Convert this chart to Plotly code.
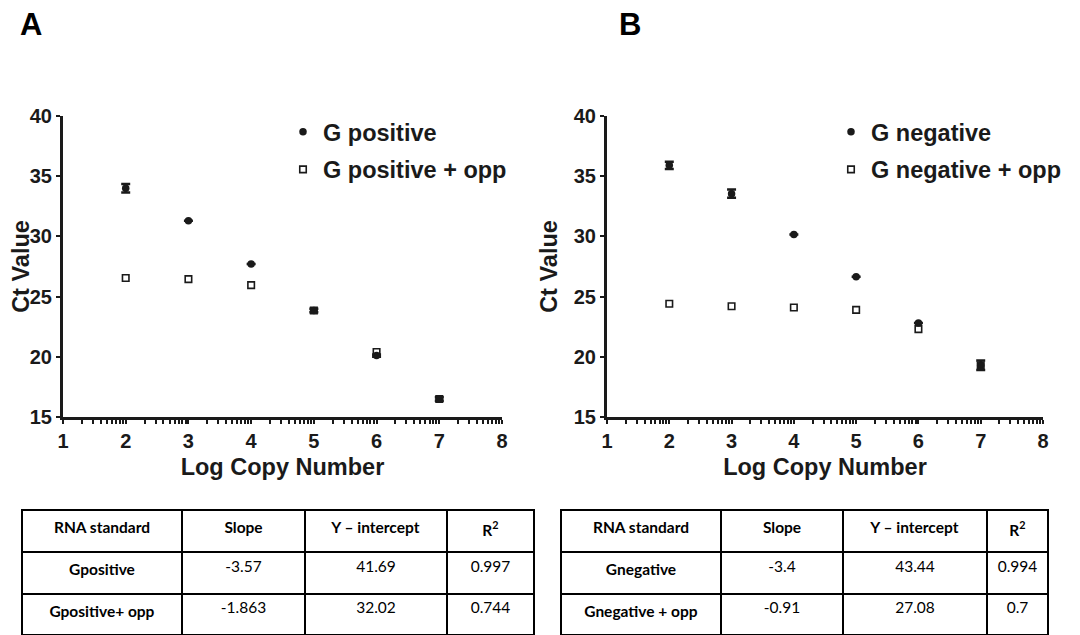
import plotly.graph_objects as go
import numpy as np

# ---------------- data ----------------
log_copy = [2, 3, 4, 5, 6, 7]

g_pos = [34.0, 31.3, 27.7, 23.85, 20.1, 16.5]
g_pos_err = [0.35, 0.0, 0.0, 0.15, 0.1, 0.15]
g_pos_opp = [26.55, 26.45, 25.95, 23.85, 20.4, 16.5]

g_neg = [35.9, 33.55, 30.15, 26.65, 22.8, 19.3]
g_neg_err = [0.3, 0.35, 0.0, 0.0, 0.0, 0.4]
g_neg_opp = [24.4, 24.2, 24.1, 23.9, 22.3, 19.3]

table_header = ["RNA standard", "Slope", "Y \u2013 intercept", "R<sup>2</sup>"]
tableA_names = ["Gpositive", "Gpositive+ opp"]
tableA_slope = ["-3.57", "-1.863"]
tableA_icpt = ["41.69", "32.02"]
tableA_r2 = ["0.997", "0.744"]
tableB_names = ["Gnegative", "Gnegative + opp"]
tableB_slope = ["-3.4", "-0.91"]
tableB_icpt = ["43.44", "27.08"]
tableB_r2 = ["0.994", "0.7"]

x_ticks = [1, 2, 3, 4, 5, 6, 7, 8]
y_ticks = [15, 20, 25, 30, 35, 40]

# ---------------- style ----------------
OFF = 8                      # default page body margin
W, H = 1080 - OFF, 635 - OFF
INK = "#1a1a1a"
AX_FONT = "Liberation Sans"
TB_FONT = "Lato"
minor_vals = [i + np.log10(k) for i in range(1, 8) for k in range(2, 10)]


def px_x(p):
    return (p - OFF) / W


def px_y(p):
    return 1 - (p - OFF) / H


fig = go.Figure()

def add_panel(xa, ya, leg, y_main, y_err, y_opp, name_main, name_opp):
    fig.add_trace(go.Scatter(
        x=log_copy, y=y_main, mode="markers", name=name_main,
        xaxis=xa, yaxis=ya, legend=leg, legendgroup=name_main, cliponaxis=False,
        marker=dict(symbol="circle", size=7.5, color=INK),
        error_y=dict(type="data", array=y_err, visible=True,
                     color=INK, thickness=2.5, width=4.5),
    ))
    fig.add_trace(go.Scatter(
        x=log_copy, y=y_opp, mode="markers", name=name_opp,
        xaxis=xa, yaxis=ya, legend=leg, legendgroup=name_opp, cliponaxis=False,
        marker=dict(symbol="square-open", size=6.5, color=INK,
                    line=dict(width=1.6, color=INK)),
    ))

add_panel("x", "y", "legend", g_pos, g_pos_err, g_pos_opp, "G positive", "G positive + opp")
add_panel("x2", "y2", "legend2", g_neg, g_neg_err, g_neg_opp, "G negative", "G negative + opp")


def add_table(x0, x1, names, slope, icpt, r2, widths):
    fig.add_trace(go.Table(
        domain=dict(x=[px_x(x0), px_x(x1)], y=[0, px_y(510)]),
        columnwidth=widths,
        header=dict(
            values=["<b>%s</b>" % h for h in table_header],
            height=42, align="center",
            line=dict(color="black", width=2),
            fill=dict(color="white"),
            font=dict(family=TB_FONT, size=15.5, color="black"),
        ),
        cells=dict(
            values=[["<b>%s</b>" % n for n in names], slope, icpt, r2],
            height=41.5, align="center",
            line=dict(color="black", width=2),
            fill=dict(color="white"),
            font=dict(family=TB_FONT, size=15.5, color="black"),
        ),
    ))

add_table(22, 534, tableA_names, tableA_slope, tableA_icpt, tableA_r2, [160, 123, 142, 87])
add_table(561, 1048, tableB_names, tableB_slope, tableB_icpt, tableB_r2, [160, 122, 144, 61])

axis_common = dict(
    showline=True, linewidth=3, linecolor=INK, showgrid=False, zeroline=False,
    ticks="outside", tickwidth=2, ticklen=4, tickcolor=INK, automargin=False,
    tickfont=dict(family=AX_FONT, size=20, color=INK, weight="bold"),
)
xcommon = dict(axis_common, range=[1, 8], tickmode="array", tickvals=x_ticks,
               title=dict(text="Log Copy Number", standoff=8,
                          font=dict(family=AX_FONT, size=23.5, color=INK, weight="bold")),
               minor=dict(tickmode="array", tickvals=minor_vals, ticks="outside",
                          ticklen=3.5, tickwidth=2, tickcolor=INK))
ycommon = dict(axis_common, range=[15, 40], tickmode="array", tickvals=y_ticks,
               title=dict(text="Ct Value", standoff=10,
                          font=dict(family=AX_FONT, size=23.5, color=INK, weight="bold")))

legend_common = dict(
    font=dict(family=AX_FONT, size=23.5, color=INK, weight="bold"),
    bgcolor="rgba(0,0,0,0)", xanchor="left", yanchor="top",
    itemsizing="trace", tracegroupgap=4,
)

fig.update_layout(
    width=W, height=H, margin=dict(l=0, r=0, t=0, b=0, pad=0, autoexpand=False),
    paper_bgcolor="white", plot_bgcolor="white",
    xaxis=dict(xcommon, domain=[px_x(63), px_x(502)], anchor="y"),
    yaxis=dict(ycommon, domain=[px_y(417), px_y(116)], anchor="x"),
    xaxis2=dict(xcommon, domain=[px_x(607), px_x(1043)], anchor="y2"),
    yaxis2=dict(ycommon, domain=[px_y(417), px_y(116)], anchor="x2"),
    legend=dict(legend_common, x=px_x(283), y=px_y(110)),
    legend2=dict(legend_common, x=px_x(831), y=px_y(110)),
    showlegend=True,
    annotations=[
        dict(text="<b>A</b>", x=px_x(31), y=px_y(25), xref="paper", yref="paper",
             xanchor="center", yanchor="middle",
             showarrow=False, font=dict(family=AX_FONT, size=31, color="black")),
        dict(text="<b>B</b>", x=px_x(630), y=px_y(25), xref="paper", yref="paper",
             xanchor="center", yanchor="middle",
             showarrow=False, font=dict(family=AX_FONT, size=31, color="black")),
    ],
)

fig.write_html("out.html")
